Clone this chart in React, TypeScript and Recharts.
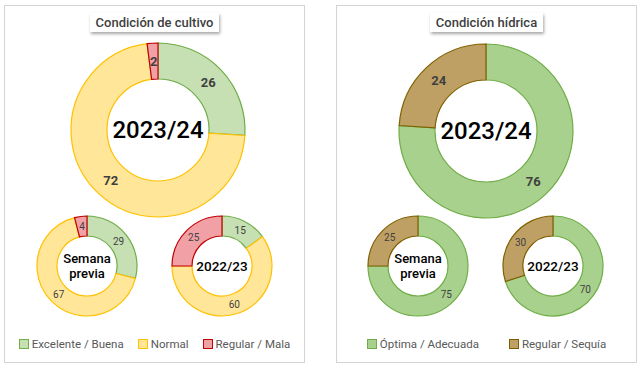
import { PieChart, Pie, Cell, Label } from "recharts"

const cropCategories = ["Excelente / Buena", "Normal", "Regular / Mala"]
const crop2023 = [26, 72, 2]
const cropPrevWeek = [29, 67, 4]
const crop2022 = [15, 60, 25]

const waterCategories = ["Óptima / Adecuada", "Regular / Sequía"]
const water2023 = [76, 24]
const waterPrevWeek = [75, 25]
const water2022 = [70, 30]

const cropFill = ["#c6e0b4", "#ffe699", "#f1a0a6"]
const cropStroke = ["#70ad47", "#ffc000", "#c00000"]
const waterFill = ["#a9d18e", "#bfa064"]
const waterStroke = ["#70ad47", "#7f6000"]

const FONT = "Roboto, 'Noto Sans', sans-serif"
const RADIAN = Math.PI / 180

const toRows = (names: string[], values: number[]) =>
  names.map((name, i) => ({ name, value: values[i] }))

const valueLabel = (size: number, weight: number) => (p: any) => {
  const r = (p.innerRadius + p.outerRadius) / 2
  const x = p.cx + r * Math.cos(-p.midAngle * RADIAN)
  const y = p.cy + r * Math.sin(-p.midAngle * RADIAN)
  return (
    <text x={x} y={y} textAnchor="middle" dominantBaseline="central"
      fontFamily={FONT} fontSize={size} fontWeight={weight} fill="#404040">
      {p.value}
    </text>
  )
}

// center caption of a donut; Label's viewBox isn't reliable here so the pie centre is passed in
const centerText = (lines: string[], size: number, cx: number, cy: number) => () => {
  const lh = size * 1.1
  const top = cy - ((lines.length - 1) * lh) / 2
  return (
    <text textAnchor="middle" fontFamily={FONT} fontSize={size} fontWeight={500} fill="#000">
      {lines.map((l, i) => (
        <tspan key={l} x={cx} y={top + i * lh} dominantBaseline="central">{l}</tspan>
      ))}
    </text>
  )
}

function Donut(props: any) {
  const { id, names, values, fills, strokes, cx, cy, inner, outer, lines, centerSize, labelSize, labelWeight } = props
  return (
    <Pie
      key={id}
      data={toRows(names, values)}
      dataKey="value"
      cx={cx}
      cy={cy}
      innerRadius={inner}
      outerRadius={outer}
      startAngle={90}
      endAngle={-270}
      isAnimationActive={false}
      labelLine={false}
      label={valueLabel(labelSize, labelWeight)}
    >
      {values.map((_: number, i: number) => (
        <Cell key={i} fill={fills[i]} stroke={strokes[i]} strokeWidth={1.2} />
      ))}
      <Label position="center" content={centerText(lines, centerSize, cx, cy)} />
    </Pie>
  )
}

function Panel({ left, title, names, fills, strokes, gap }: any) {
  return (
    <div style={{ position: "absolute", left, top: 5, width: 301, height: 358, border: "1px solid #d4d4d4", boxSizing: "border-box", background: "#fff" }}>
      <div style={{ position: "absolute", left: 0, right: 0, top: 7, textAlign: "center" }}>
        <span style={{ display: "inline-block", padding: "2px 6px", fontFamily: FONT, fontSize: 13, fontWeight: 500, color: "#404040", background: "#fff", boxShadow: "1px 2px 3px rgba(0,0,0,0.35)" }}>
          {title}
        </span>
      </div>
      <div style={{ position: "absolute", left: 0, right: 0, top: 331, display: "flex", justifyContent: "center", gap, fontFamily: FONT, fontSize: 11.5, color: "#595959" }}>
        {names.map((n: string, i: number) => (
          <div key={n} style={{ display: "flex", alignItems: "center", gap: 3 }}>
            <span style={{ width: 8, height: 8, background: fills[i], border: `1px solid ${strokes[i]}` }} />
            <span>{n}</span>
          </div>
        ))}
      </div>
    </div>
  )
}

export default function App() {
  return (
    <div style={{ position: "absolute", left: 0, top: 0, width: 640, height: 371, background: "#fff" }}>
      <Panel left={4} title="Condición de cultivo" names={cropCategories} fills={cropFill} strokes={cropStroke} gap={14} />
      <Panel left={336} title="Condición hídrica" names={waterCategories} fills={waterFill} strokes={waterStroke} gap={30} />
      <div style={{ position: "absolute", left: 0, top: 0 }}>
        <PieChart width={640} height={371} margin={{ top: 0, right: 0, bottom: 0, left: 0 }}>
          {Donut({ id: "c1", names: cropCategories, values: crop2023, fills: cropFill, strokes: cropStroke, cx: 158, cy: 130, inner: 51, outer: 87, lines: ["2023/24"], centerSize: 24, labelSize: 13, labelWeight: 700 })}
          {Donut({ id: "c2", names: cropCategories, values: cropPrevWeek, fills: cropFill, strokes: cropStroke, cx: 87, cy: 266, inner: 30, outer: 50, lines: ["Semana", "previa"], centerSize: 13, labelSize: 10, labelWeight: 400 })}
          {Donut({ id: "c3", names: cropCategories, values: crop2022, fills: cropFill, strokes: cropStroke, cx: 222, cy: 266, inner: 30, outer: 50, lines: ["2022/23"], centerSize: 13.5, labelSize: 10, labelWeight: 400 })}
          {Donut({ id: "w1", names: waterCategories, values: water2023, fills: waterFill, strokes: waterStroke, cx: 486, cy: 131, inner: 51, outer: 87, lines: ["2023/24"], centerSize: 24, labelSize: 13, labelWeight: 700 })}
          {Donut({ id: "w2", names: waterCategories, values: waterPrevWeek, fills: waterFill, strokes: waterStroke, cx: 418, cy: 266, inner: 30, outer: 50, lines: ["Semana", "previa"], centerSize: 13, labelSize: 10, labelWeight: 400 })}
          {Donut({ id: "w3", names: waterCategories, values: water2022, fills: waterFill, strokes: waterStroke, cx: 553, cy: 266, inner: 30, outer: 50, lines: ["2022/23"], centerSize: 13.5, labelSize: 10, labelWeight: 400 })}
        </PieChart>
      </div>
    </div>
  )
}
